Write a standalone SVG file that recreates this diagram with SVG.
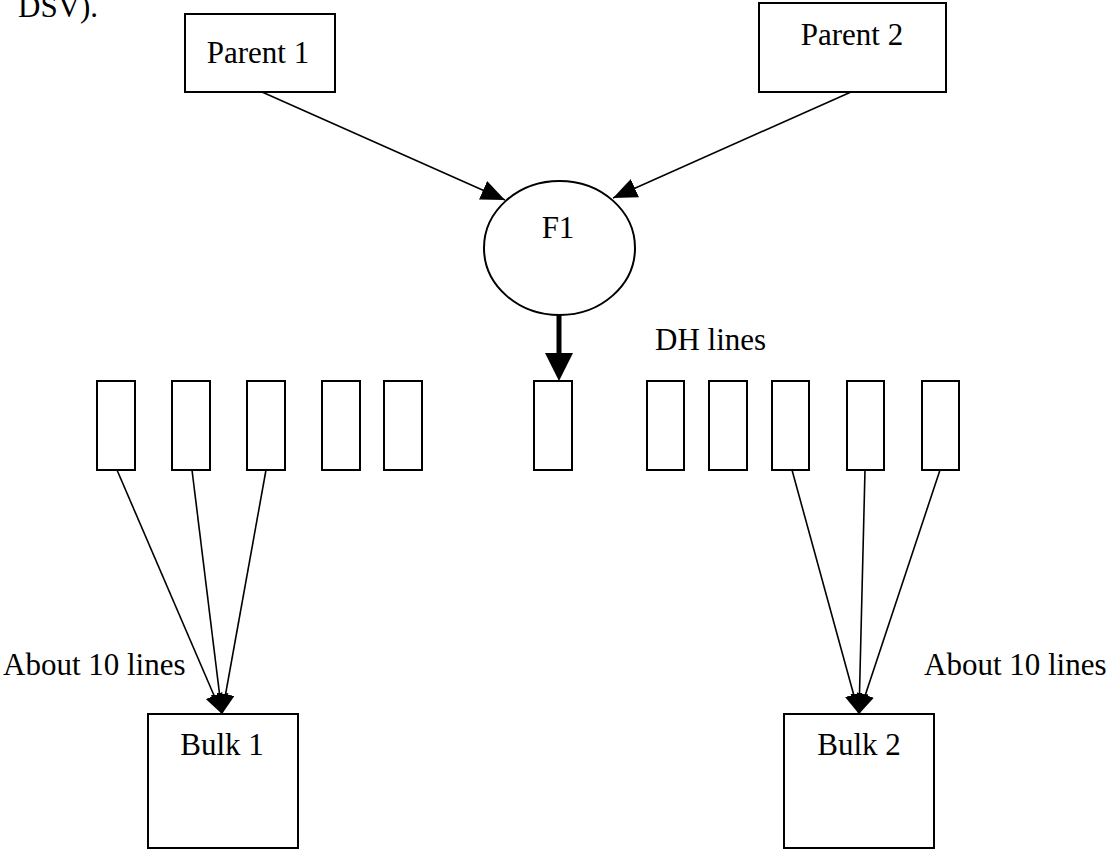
<svg xmlns="http://www.w3.org/2000/svg" width="1114" height="850" viewBox="0 0 1114 850">
<style>
  .box{fill:#fff;stroke:#000;stroke-width:2}
  .t{font-family:"Liberation Serif","Times New Roman",serif;font-size:31px;fill:#000}
  .c{text-anchor:middle}
  .ln{stroke:#000;stroke-width:1.6;fill:none}
</style>
<defs>
  <marker id="ah" markerUnits="userSpaceOnUse" markerWidth="24" markerHeight="20" viewBox="0 0 24 20" refX="24" refY="10" orient="auto">
    <path d="M0,0 L24,10 L0,20 z" fill="#000"/>
  </marker>
  <marker id="ahs" markerUnits="userSpaceOnUse" markerWidth="20" markerHeight="18" viewBox="0 0 20 18" refX="20" refY="9" orient="auto">
    <path d="M0,0 L20,9 L0,18 z" fill="#000"/>
  </marker>
  <marker id="ahb" markerUnits="userSpaceOnUse" markerWidth="28" markerHeight="28" viewBox="0 0 28 28" refX="0" refY="14" orient="auto">
    <path d="M0,0 L28,14 L0,28 z" fill="#000"/>
  </marker>
</defs>
<rect width="1114" height="850" fill="#fff"/>
<text class="t" x="18" y="17">DSV).</text>
<g id="parent1"><rect class="box" x="185" y="14" width="150" height="78"/><text class="t c" x="258" y="63">Parent 1</text></g>
<g id="parent2"><rect class="box" x="759" y="3" width="187" height="89"/><text class="t c" x="852" y="45">Parent 2</text></g>
<g id="f1"><ellipse class="box" cx="559.5" cy="248" rx="75.5" ry="67"/><text class="t c" x="558" y="238">F1</text></g>
<g id="dh-label"><text class="t" x="655" y="350">DH lines</text></g>
<g id="dh-lines">
  <rect class="box" x="97" y="381" width="38" height="89"/>
  <rect class="box" x="172" y="381" width="38" height="89"/>
  <rect class="box" x="247" y="381" width="38" height="89"/>
  <rect class="box" x="322" y="381" width="38" height="89"/>
  <rect class="box" x="384" y="381" width="38" height="89"/>
  <rect class="box" x="534" y="381" width="38" height="89"/>
  <rect class="box" x="647" y="381" width="37" height="89"/>
  <rect class="box" x="709" y="381" width="38" height="89"/>
  <rect class="box" x="772" y="381" width="37" height="89"/>
  <rect class="box" x="847" y="381" width="37" height="89"/>
  <rect class="box" x="922" y="381" width="37" height="89"/>
</g>
<g id="bulk1"><rect class="box" x="148" y="714" width="150" height="134"/><text class="t c" x="222" y="755">Bulk 1</text></g>
<g id="bulk2"><rect class="box" x="784" y="714" width="150" height="134"/><text class="t c" x="859" y="755">Bulk 2</text></g>
<text class="t" x="3" y="675">About 10 lines</text>
<text class="t" x="924" y="675">About 10 lines</text>
<g id="connectors">
  <line class="ln" x1="262" y1="92" x2="505" y2="200" marker-end="url(#ah)"/>
  <line class="ln" x1="851" y1="92" x2="613" y2="198" marker-end="url(#ah)"/>
  <line x1="559" y1="315" x2="559" y2="353" stroke="#000" stroke-width="5" marker-end="url(#ahb)"/>
  <line class="ln" x1="117" y1="470" x2="222" y2="714" marker-end="url(#ahs)"/>
  <line class="ln" x1="192" y1="470" x2="222" y2="714" marker-end="url(#ahs)"/>
  <line class="ln" x1="266" y1="470" x2="222" y2="714" marker-end="url(#ahs)"/>
  <line class="ln" x1="792" y1="470" x2="859" y2="714" marker-end="url(#ahs)"/>
  <line class="ln" x1="865" y1="470" x2="859" y2="714" marker-end="url(#ahs)"/>
  <line class="ln" x1="940" y1="470" x2="859" y2="714" marker-end="url(#ahs)"/>
</g>
</svg>
